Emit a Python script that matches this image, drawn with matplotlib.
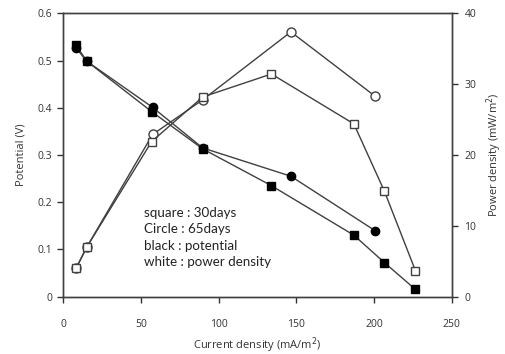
import numpy as np
import matplotlib.pyplot as plt

# current density (mA/m2)
cd_30 = [8.4, 15.2, 57, 89.8, 134, 187, 206.6, 226.6]
cd_65 = [8.4, 15.2, 57.6, 89.8, 146.5, 200.7]

# potential (V)
pot_30 = [0.533, 0.499, 0.392, 0.313, 0.235, 0.130, 0.072, 0.015]
pot_65 = [0.527, 0.499, 0.401, 0.315, 0.255, 0.1395]

# power density (mW/m2)
pow_30 = [3.98, 6.95, 21.9, 28.2, 31.45, 24.4, 14.9, 3.65]
pow_65 = [3.98, 6.95, 22.9, 27.8, 37.4, 28.3]

plt.rcParams['font.family'] = ['Open Sans', 'DejaVu Sans']
lc = '#404040'

fig = plt.figure(figsize=(5.06, 3.54), dpi=100)
ax = fig.add_axes([0.1245, 0.1624, 0.7685, 0.7995])
ax2 = ax.twinx()

ms = 6
ax.plot(cd_30, pot_30, '-s', color=lc, lw=1, mfc='black', mec='black', ms=ms, zorder=3)
ax.plot(cd_65, pot_65, '-o', color=lc, lw=1, mfc='black', mec='black', ms=ms, zorder=3)
ax2.plot(cd_65, pow_65, '-o', color=lc, lw=1, mfc='white', mec=lc, ms=ms + 0.5, zorder=3)
ax2.plot(cd_30, pow_30, '-s', color=lc, lw=1, mfc='white', mec=lc, ms=ms, zorder=3)

ax.set_xlim(0, 250)
ax.set_ylim(0, 0.6)
ax2.set_ylim(0, 40)
ax.set_xticks([0, 50, 100, 150, 200, 250])
ax.set_yticks([0, 0.1, 0.2, 0.3, 0.4, 0.5, 0.6])
ax.set_yticklabels(['0', '0.1', '0.2', '0.3', '0.4', '0.5', '0.6'])
ax2.set_yticks([0, 10, 20, 30, 40])

for a in (ax, ax2):
    for s in a.spines.values():
        s.set_color(lc)
        s.set_linewidth(1)
    a.tick_params(colors='#333333', labelsize=7.5, length=4, width=1, direction='out')
ax.tick_params(axis='x', pad=12)
ax.tick_params(axis='y', pad=4)
ax2.tick_params(axis='y', pad=5)

ax.set_xlabel('Current density (mA/m$^2$)', fontsize=8, color='#333333', labelpad=4)
ax.set_ylabel('Potential (V)', fontsize=8, color='#333333', labelpad=8)
ax2.set_ylabel('Power density (mW/m$^2$)', fontsize=8, color='#333333', labelpad=6)

ax.text(0.208, 0.318, 'square : 30days\nCircle : 65days\nblack : potential\nwhite : power density',
        transform=ax.transAxes, fontsize=9.6, family=['Lato', 'DejaVu Sans'],
        color='#222222', va='top', ha='left', linespacing=1.45)

fig.savefig('out.png', dpi=100)
